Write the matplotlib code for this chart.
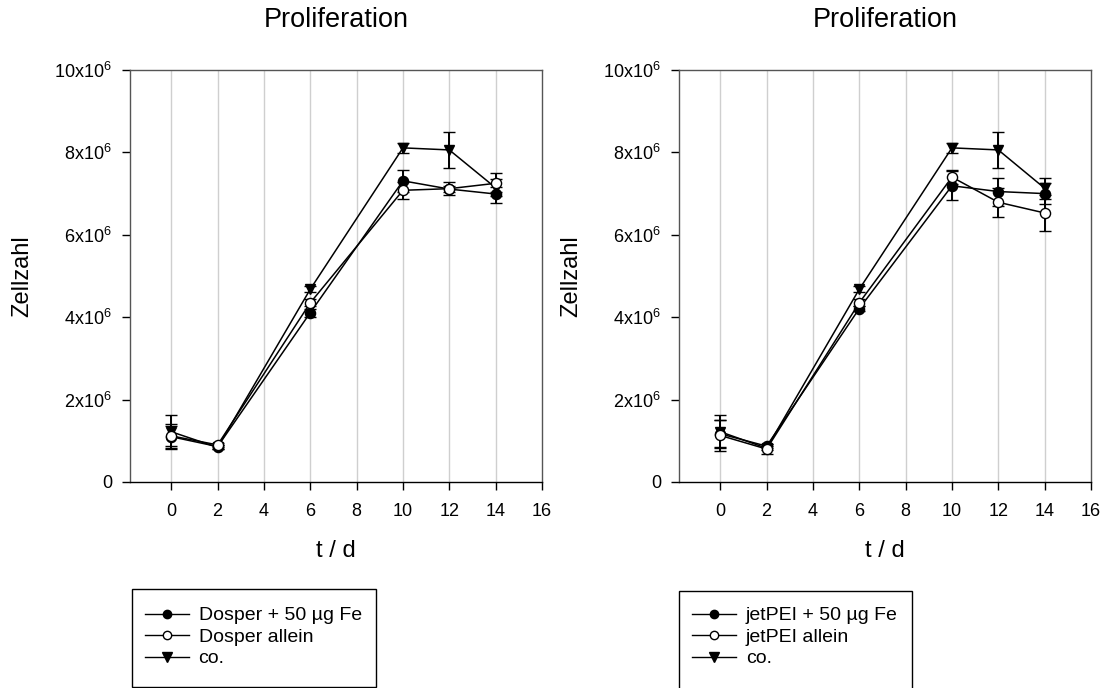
import matplotlib
matplotlib.use('Agg')
import matplotlib.pyplot as plt
from matplotlib.patches import Rectangle

plt.rcParams['font.family'] = ['Liberation Sans', 'DejaVu Sans']
plt.rcParams['mathtext.fontset'] = 'custom'
plt.rcParams['mathtext.rm'] = 'Liberation Sans'
plt.rcParams['mathtext.it'] = 'Liberation Sans'

# time points (days)
t = [0, 2, 6, 10, 12, 14]

# left panel: Dosper (values in 1e6 cells)
dosper_fe = [1.10, 0.86, 4.11, 7.31, 7.11, 6.99]
dosper_fe_err = [0.30, 0.05, 0.10, 0.26, 0.08, 0.05]
dosper_allein = [1.12, 0.90, 4.35, 7.08, 7.12, 7.25]
dosper_allein_err = [0.25, 0.05, 0.08, 0.20, 0.15, 0.10]
co = [1.22, 0.84, 4.68, 8.11, 8.06, 7.14]
co_err = [0.40, 0.05, 0.08, 0.12, 0.43, 0.37]

# right panel: jetPEI
jet_fe = [1.17, 0.87, 4.21, 7.19, 7.05, 7.00]
jet_fe_err = [0.33, 0.05, 0.06, 0.35, 0.34, 0.25]
jet_allein = [1.13, 0.80, 4.35, 7.40, 6.79, 6.53]
jet_allein_err = [0.38, 0.13, 0.08, 0.17, 0.35, 0.44]
co2 = [1.22, 0.82, 4.68, 8.11, 8.06, 7.13]
co2_err = [0.40, 0.05, 0.08, 0.12, 0.43, 0.25]

panels = [
    ('Dosper + 50 µg Fe', 'Dosper allein', dosper_fe, dosper_fe_err, dosper_allein, dosper_allein_err, co, co_err),
    ('jetPEI + 50 µg Fe', 'jetPEI allein', jet_fe, jet_fe_err, jet_allein, jet_allein_err, co2, co2_err),
]

yticks = [0, 2, 4, 6, 8, 10]
ylabels = ['0'] + ['%dx10$^{6}$' % v for v in yticks[1:]]
xticks = [0, 2, 4, 6, 8, 10, 12, 14, 16]

W, H = 1109.0, 688.0
fig = plt.figure(figsize=(W / 100, H / 100), dpi=100)

def px(x, y):
    # pixel position (from top-left) -> figure fraction
    return x / W, 1 - y / H

# axes boxes in pixels: left, right, top, bottom
ax_px = [(130, 542, 70, 482), (679, 1091, 70, 482)]
# legend frames in pixels: x0, y0, x1, y1
leg_px = [(131.7, 589, 375.7, 687), (679, 590.5, 912, 700)]

for (l, r, tp, bt), (lx0, ly0, lx1, ly1), (lab_fe, lab_al, fe, fe_e, al, al_e, c, c_e) in zip(ax_px, leg_px, panels):
    ax = fig.add_axes([l / W, 1 - bt / H, (r - l) / W, (bt - tp) / H])
    for xv in range(0, 16, 2):
        ax.axvline(xv, color='#cfcfcf', lw=1.0, zorder=0)
    kw = dict(color='black', lw=1.1, elinewidth=1.4, capsize=4.6, capthick=1.4, markersize=7.3,
              markeredgecolor='black', markeredgewidth=1.0)
    ax.errorbar(t, fe, yerr=fe_e, fmt='-o', markerfacecolor='black', zorder=3, **kw)
    ax.errorbar(t, al, yerr=al_e, fmt='-o', markerfacecolor='white', zorder=4, **kw)
    ax.errorbar(t, c, yerr=c_e, fmt='-v', markerfacecolor='black', zorder=2, **kw)
    ax.set_xlim(-1.78, 16)
    ax.set_ylim(0, 10)
    ax.set_xticks(xticks)
    ax.set_yticks(yticks)
    ax.set_yticklabels(ylabels)
    ax.tick_params(direction='out', length=6, width=1, labelsize=13, color='black')
    ax.tick_params(axis='x', pad=9)
    ax.tick_params(axis='y', pad=7)
    for s in ax.spines.values():
        s.set_color('#555555')
        s.set_linewidth(1.0)
    ax.spines['bottom'].set_color('black')

    cx = (l + r) / 2
    fig.text(*px(cx, 20), 'Proliferation', fontsize=19.5, ha='center', va='center')
    fig.text(*px(cx, 551), 't / d', fontsize=17, ha='center', va='center')
    fig.text(*px(l - 108, 276), 'Zellzahl', fontsize=17, ha='center', va='center', rotation=90)

    # legend frame
    fx0, fy1 = px(lx0, ly1)
    fx1, fy0 = px(lx1, ly0)
    fig.patches.append(Rectangle((fx0, fy1), fx1 - fx0, fy0 - fy1, transform=fig.transFigure,
                                 fill=False, edgecolor='black', lw=1.0))
    handles = [
        plt.Line2D([], [], color='black', lw=1.0, marker='o', markersize=6, markerfacecolor='black', markeredgecolor='black'),
        plt.Line2D([], [], color='black', lw=1.0, marker='o', markersize=6, markerfacecolor='white', markeredgecolor='black'),
        plt.Line2D([], [], color='black', lw=1.0, marker='v', markersize=6.5, markerfacecolor='black', markeredgecolor='black'),
    ]
    fig.legend(handles, [lab_fe, lab_al, 'co.'], loc='center left', bbox_to_anchor=px(lx0 + 13, 637),
               fontsize=14, frameon=False, handlelength=2.27, handletextpad=0.5,
               labelspacing=0.2, borderaxespad=0, borderpad=0)

fig.savefig('out.png', dpi=100)
